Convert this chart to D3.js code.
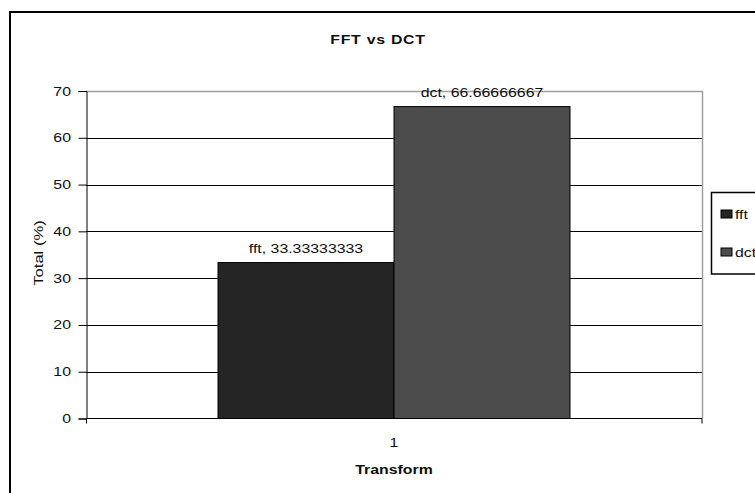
<!DOCTYPE html>
<html><head><meta charset="utf-8">
<script src="https://cdn.jsdelivr.net/npm/d3@7"></script>
<style>
html,body{margin:0;padding:0;background:#fff;}
svg{display:block;font-family:"Liberation Sans",Arial,sans-serif;}
</style></head>
<body><svg id="c" width="755" height="493"></svg>
<script>
const categories = ["1"];
const seriesNames = ["fft", "dct"];
const fftValues = [33.33333333];
const dctValues = [66.66666667];
const seriesColors = ["#252525", "#4c4c4c"];
const yTicks = [0, 10, 20, 30, 40, 50, 60, 70];
const title = "FFT vs DCT";
const xTitle = "Transform";
const yTitle = "Total (%)";

const SX = 1.22; // horizontal stretch of the original text
const svg = d3.select("#c");
const W = 755, H = 493;
const plot = {left: 86, right: 702, top: 91, bottom: 418.5};

function stext(g, x, y, str, opts = {}) {
  const t = g.append("text")
    .attr("transform", `translate(${x},${y}) scale(${opts.sx || SX},1)`)
    .attr("text-anchor", opts.anchor || "middle")
    .attr("font-size", opts.size || 13)
    .attr("fill", opts.fill || "#111")
    .text(str);
  if (opts.bold) t.attr("font-weight", "bold");
  if (opts.ls) t.attr("letter-spacing", opts.ls);
  return t;
}

// outer chart border
svg.append("rect").attr("x", 10).attr("y", 12).attr("width", W + 20).attr("height", H + 20)
  .attr("fill", "#fff").attr("stroke", "#000").attr("stroke-width", 2);

const y = d3.scaleLinear().domain([0, 70]).range([plot.bottom, plot.top]);
const x0 = d3.scaleBand().domain(categories).range([plot.left, plot.right]).paddingInner(0).paddingOuter(0.375);
const x1 = d3.scaleBand().domain(seriesNames).range([0, x0.bandwidth()]);
const color = d3.scaleOrdinal().domain(seriesNames).range(seriesColors);

const values = {fft: fftValues, dct: dctValues};

// gridlines
svg.append("g").selectAll("line").data(yTicks.filter(t => t > 0 && t < 70)).join("line")
  .attr("x1", plot.left).attr("x2", plot.right)
  .attr("y1", d => Math.round(y(d)) + 0.5).attr("y2", d => Math.round(y(d)) + 0.5)
  .attr("stroke", "#000").attr("stroke-width", 1);

// plot border (top & right gray)
svg.append("path")
  .attr("d", `M${plot.left},${plot.top + 0.5}H${plot.right + 0.5}V${plot.bottom}`)
  .attr("fill", "none").attr("stroke", "#a0a0a0").attr("stroke-width", 1.5);

// bars
const data = [];
categories.forEach((c, i) => seriesNames.forEach(s => data.push({c, s, v: values[s][i]})));
svg.append("g").selectAll("rect").data(data).join("rect")
  .attr("x", d => x0(d.c) + x1(d.s))
  .attr("y", d => y(d.v))
  .attr("width", x1.bandwidth())
  .attr("height", d => y(0) - y(d.v))
  .attr("fill", d => color(d.s))
  .attr("stroke", "#000").attr("stroke-width", 1);

// data labels
const lblG = svg.append("g");
data.forEach(d => {
  stext(lblG, x0(d.c) + x1(d.s) + x1.bandwidth() / 2, y(d.v) - 10, `${d.s}, ${d.v}`);
});

// y axis
const yAxis = d3.axisLeft(y).tickValues(yTicks).tickSize(8).tickFormat(() => "");
const gy = svg.append("g").attr("transform", `translate(${plot.left + 0.5},0)`).call(yAxis);
gy.select(".domain").attr("stroke", "#000");
gy.selectAll("line").attr("stroke", "#000");
const yl = svg.append("g");
yTicks.forEach(t => stext(yl, 71, y(t) + 4.5, String(t), {anchor: "end"}));

// x axis
const xAxis = d3.axisBottom(x0).tickSize(0).tickFormat(() => "");
const gx = svg.append("g").attr("transform", `translate(0,${plot.bottom})`).call(xAxis);
gx.select(".domain").attr("stroke", "#000").attr("d", `M${plot.left + 0.5},5V0H${plot.right}V5`);
const xl = svg.append("g");
categories.forEach(c => stext(xl, x0(c) + x0.bandwidth() / 2, 447, c));

// titles
stext(svg, 378, 44, title, {bold: true, size: 13, ls: "0.6px"});
stext(svg, (plot.left + plot.right) / 2, 474, xTitle, {bold: true, size: 13});
svg.append("text").attr("transform", `translate(43,253) rotate(-90) scale(1.28,1)`)
  .attr("text-anchor", "middle").attr("font-size", 13).attr("fill", "#111").text(yTitle);

// legend
const lg = svg.append("g");
lg.append("rect").attr("x", 711.5).attr("y", 192.5).attr("width", 60).attr("height", 81.5)
  .attr("fill", "#fff").attr("stroke", "#000").attr("stroke-width", 1.5);
const items = lg.selectAll("g").data(seriesNames).join("g")
  .attr("transform", (d, i) => `translate(721,${214 + i * 38})`);
items.append("rect").attr("x", 0).attr("y", -4).attr("width", 11).attr("height", 8)
  .attr("fill", d => color(d)).attr("stroke", "#000").attr("stroke-width", 1);
items.each(function (d) { stext(d3.select(this), 14, 4.5, d, {anchor: "start"}); });
</script>
</body></html>
